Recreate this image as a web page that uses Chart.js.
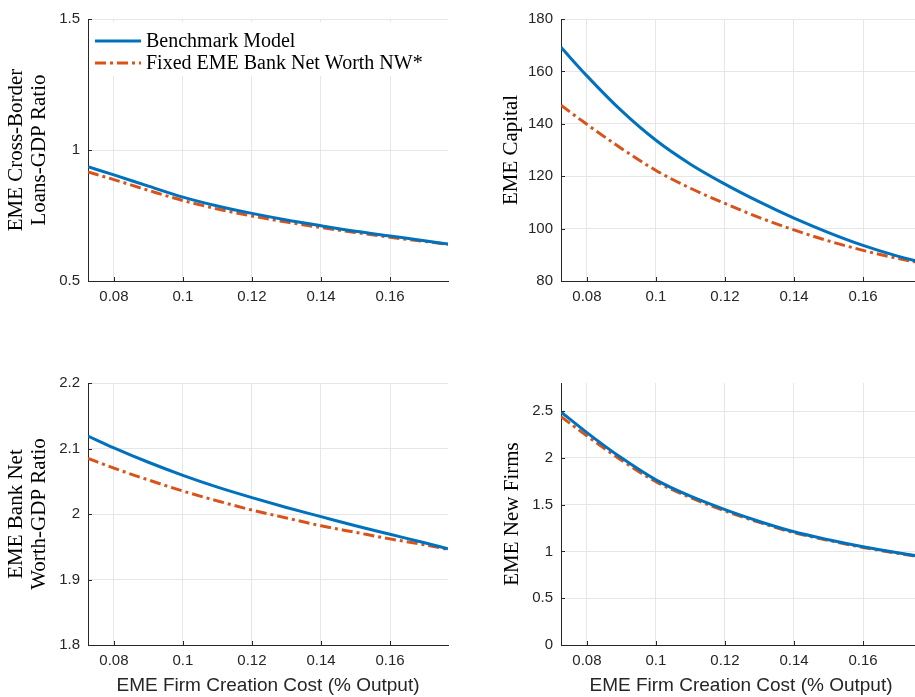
<!DOCTYPE html>
<html>
<head>
<meta charset="utf-8">
<script src="https://cdn.jsdelivr.net/npm/chart.js@4.4.1/dist/chart.umd.min.js"></script>
<style>
  html, body { margin: 0; padding: 0; background: #fff; overflow: hidden; width: 915px; height: 697px; }
  canvas { position: absolute; }
</style>
</head>
<body>
<canvas id="c1" width="460" height="340" style="left:0;top:0;width:460px;height:340px"></canvas>
<canvas id="c2" width="475" height="340" style="left:460px;top:0;width:475px;height:340px"></canvas>
<canvas id="c3" width="460" height="357" style="left:0;top:340px;width:460px;height:357px"></canvas>
<canvas id="c4" width="475" height="357" style="left:460px;top:340px;width:475px;height:357px"></canvas>
<script>
// ---------- DATA ----------
const seriesNames = ["Benchmark Model", "Fixed EME Bank Net Worth NW*"];
const xValues = [0.0725, 0.08, 0.09, 0.1, 0.11, 0.12, 0.13, 0.14, 0.15, 0.16, 0.17, 0.1768];
const xTicks = [0.08, 0.1, 0.12, 0.14, 0.16];
const xTickLabels = ["0.08", "0.1", "0.12", "0.14", "0.16"];
const xTitle = "EME Firm Creation Cost (% Output)";

const loansBench = [0.936, 0.905, 0.862, 0.820, 0.786, 0.758, 0.733, 0.711, 0.690, 0.672, 0.654, 0.641];
const loansFixed = [0.916, 0.887, 0.846, 0.807, 0.775, 0.748, 0.725, 0.704, 0.685, 0.667, 0.651, 0.640];
const loansTicks = [0.5, 1, 1.5];
const loansTickLabels = ["0.5", "1", "1.5"];

const capitalBench = [169.2, 158.3, 145.0, 133.7, 124.6, 117.0, 110.2, 104.0, 98.5, 93.6, 89.5, 87.2];
const capitalFixed = [147.1, 139.8, 130.6, 122.2, 115.4, 109.6, 104.2, 99.5, 95.3, 91.7, 88.6, 86.9];
const capitalTicks = [80, 100, 120, 140, 160, 180];
const capitalTickLabels = ["80", "100", "120", "140", "160", "180"];

const netWorthBench = [2.119, 2.101, 2.079, 2.059, 2.041, 2.025, 2.010, 1.996, 1.982, 1.969, 1.956, 1.947];
const netWorthFixed = [2.085, 2.070, 2.052, 2.035, 2.020, 2.006, 1.994, 1.982, 1.972, 1.962, 1.953, 1.946];
const netWorthTicks = [1.8, 1.9, 2, 2.1, 2.2];
const netWorthTickLabels = ["1.8", "1.9", "2", "2.1", "2.2"];

const firmsBench = [2.49, 2.27, 2.00, 1.765, 1.59, 1.447, 1.32, 1.21, 1.125, 1.05, 0.985, 0.945];
const firmsFixed = [2.44, 2.235, 1.975, 1.745, 1.575, 1.433, 1.31, 1.20, 1.118, 1.043, 0.980, 0.942];
const firmsTicks = [0, 0.5, 1, 1.5, 2, 2.5];
const firmsTickLabels = ["0", "0.5", "1", "1.5", "2", "2.5"];

// ---------- STYLE ----------
const BLUE = "#0072BD";
const ORANGE = "#D95319";
const AXIS = "#262626";
const GRID = "#e6e6e6";
const SERIF = "'Liberation Serif', 'Times New Roman', serif";
const SANS = "'Liberation Sans', Arial, Helvetica, sans-serif";

function pts(ys) { return xValues.map((x, i) => ({ x: x, y: ys[i] })); }

const innerTicks = {
  id: "innerTicks",
  afterDraw(chart) {
    const ctx = chart.ctx, a = chart.chartArea;
    const xs = chart.scales.x, ys = chart.scales.y;
    ctx.save();
    ctx.strokeStyle = AXIS;
    ctx.lineWidth = 1;
    ctx.beginPath();
    xs.ticks.forEach(t => {
      const px = Math.round(xs.getPixelForValue(t.value)) + 0.5;
      ctx.moveTo(px, a.bottom); ctx.lineTo(px, a.bottom - 4);
    });
    ys.ticks.forEach(t => {
      const py = Math.round(ys.getPixelForValue(t.value)) + 0.5;
      ctx.moveTo(a.left, py); ctx.lineTo(a.left + 4, py);
    });
    ctx.stroke();
    ctx.restore();
  }
};

const innerLegend = {
  id: "innerLegend",
  afterDatasetsDraw(chart, args, opts) {
    if (!opts || !opts.show) return;
    const ctx = chart.ctx, a = chart.chartArea;
    const x0 = a.left + 3, y0 = a.top + 3;
    ctx.save();
    ctx.fillStyle = "#fff";
    ctx.fillRect(x0, y0, 352, 54);
    const rows = [
      { y: a.top + 22, color: BLUE, dash: [] , label: seriesNames[0] },
      { y: a.top + 44, color: ORANGE, dash: [11, 4, 3, 4], label: seriesNames[1] }
    ];
    rows.forEach(r => {
      ctx.beginPath();
      ctx.strokeStyle = r.color;
      ctx.lineWidth = 3;
      ctx.setLineDash(r.dash);
      ctx.moveTo(a.left + 7, r.y); ctx.lineTo(a.left + 53, r.y);
      ctx.stroke();
      ctx.setLineDash([]);
      ctx.fillStyle = "#000";
      ctx.font = "20px " + SERIF;
      ctx.textBaseline = "middle";
      ctx.textAlign = "left";
      ctx.fillText(r.label, a.left + 58, r.y + 1);
    });
    ctx.restore();
  }
};

function makeChart(id, o) {
  const labelsFor = (vals, labs) => (v) => {
    const i = vals.findIndex(t => Math.abs(t - v) < 1e-9);
    return i >= 0 ? labs[i] : "";
  };
  return new Chart(document.getElementById(id), {
    type: "line",
    data: {
      datasets: [
        { label: seriesNames[0], data: pts(o.bench), borderColor: BLUE, borderWidth: 3,
          pointRadius: 0, cubicInterpolationMode: "monotone", fill: false },
        { label: seriesNames[1], data: pts(o.fixed), borderColor: ORANGE, borderWidth: 3,
          borderDash: [11, 4, 3, 4], pointRadius: 0, cubicInterpolationMode: "monotone", fill: false }
      ]
    },
    options: {
      responsive: false,
      animation: false,
      devicePixelRatio: 1,
      layout: { padding: { top: o.padTop, right: o.padRight, left: 0, bottom: 0 } },
      plugins: { legend: { display: false }, tooltip: { enabled: false },
                 innerLegend: { show: !!o.legend } },
      scales: {
        x: {
          type: "linear", min: 0.0725, max: 0.1768,
          afterBuildTicks: s => { s.ticks = xTicks.map(v => ({ value: v })); },
          afterFit: s => { s.height = o.xHeight; },
          ticks: { callback: labelsFor(xTicks, xTickLabels), color: AXIS, font: { family: SANS, size: 15 },
                   padding: 7, maxRotation: 0, autoSkip: false },
          grid: { color: GRID, drawTicks: false, lineWidth: 1 },
          border: { display: true, color: AXIS, width: 1 },
          title: { display: !!o.showXTitle, text: xTitle, color: AXIS,
                   font: { family: SANS, size: 19, lineHeight: 1.2 }, padding: { top: 0, bottom: 0 } }
        },
        y: {
          type: "linear", min: o.ymin, max: o.ymax,
          afterBuildTicks: s => { s.ticks = o.yTicks.map(v => ({ value: v })); },
          afterFit: s => { s.width = o.yWidth; },
          ticks: { callback: labelsFor(o.yTicks, o.yTickLabels), color: AXIS, font: { family: SANS, size: 15 },
                   padding: 8, autoSkip: false },
          grid: { color: GRID, drawTicks: false, lineWidth: 1 },
          border: { display: true, color: AXIS, width: 1 },
          title: { display: true, text: o.yTitle, color: "#000",
                   font: { family: SERIF, size: 21, lineHeight: 1.1 }, padding: { top: o.yTitlePad, bottom: 0 } }
        }
      }
    },
    plugins: [innerTicks, innerLegend]
  });
}

makeChart("c1", { bench: loansBench, fixed: loansFixed, ymin: 0.5, ymax: 1.5,
  yTicks: loansTicks, yTickLabels: loansTickLabels, yTitle: ["EME Cross-Border", "Loans-GDP Ratio"],
  padTop: 19, padRight: 12, yWidth: 88, xHeight: 59, yTitlePad: 5, legend: true });

makeChart("c2", { bench: capitalBench, fixed: capitalFixed, ymin: 80, ymax: 180,
  yTicks: capitalTicks, yTickLabels: capitalTickLabels, yTitle: "EME Capital",
  padTop: 19, padRight: 14, yWidth: 101, xHeight: 59, yTitlePad: 40 });

makeChart("c3", { bench: netWorthBench, fixed: netWorthFixed, ymin: 1.8, ymax: 2.2,
  yTicks: netWorthTicks, yTickLabels: netWorthTickLabels, yTitle: ["EME Bank Net", "Worth-GDP Ratio"],
  padTop: 43, padRight: 12, yWidth: 88, xHeight: 52, yTitlePad: 5, showXTitle: true });

makeChart("c4", { bench: firmsBench, fixed: firmsFixed, ymin: 0, ymax: 2.8,
  yTicks: firmsTicks, yTickLabels: firmsTickLabels, yTitle: "EME New Firms",
  padTop: 43, padRight: 14, yWidth: 101, xHeight: 52, yTitlePad: 41, showXTitle: true });
</script>
</body>
</html>
